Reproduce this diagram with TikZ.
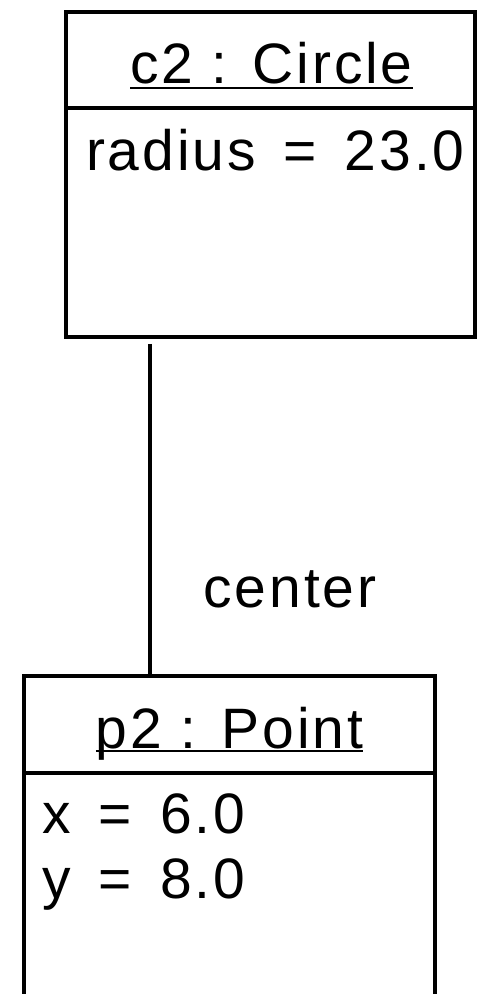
\documentclass[tikz,border=0pt]{standalone}
\usepackage{fontspec}
\setmainfont{Liberation Sans}[LetterSpace=5]
\newfontfamily\attrfont{Liberation Sans}[LetterSpace=5, WordSpace=1.5]
\begin{document}
\begin{tikzpicture}[x=1pt,y=-1pt,
  box/.style={draw, line width=3.5pt, inner sep=0pt},
  divider/.style={line width=3.5pt},
  link/.style={line width=3.5pt},
  uline/.style={line width=2pt},
  txt/.style={inner sep=0pt, font=\fontsize{57}{68}\selectfont},
  attr/.style={txt, anchor=base west, font=\attrfont\fontsize{57}{68}\selectfont}]
\useasboundingbox (0,0) rectangle (485,994);
\clip (0,0) rectangle (485,994);
% top object
\node[box, minimum width=409pt, minimum height=325pt] (c2) at (270.5,174.5) {};
\draw[divider] (c2.west |- 0,108) -- (c2.east |- 0,108);
\node[txt, anchor=base] (c2name) at (271.5,83) {c2 : Circle};
\draw[uline] ([yshift=-4.5pt]c2name.base west) -- ([yshift=-4.5pt]c2name.base east);
\node[attr] (c2r) at (86,170) {radius = 23.0};
% bottom object
\node[box, minimum width=411pt, minimum height=340pt] (p2) at (229.5,846) {};
\draw[divider] (p2.west |- 0,773) -- (p2.east |- 0,773);
\node[txt, anchor=base] (p2name) at (229.5,748) {p2 : Point};
\draw[uline] ([yshift=-3pt]p2name.base west) -- ([yshift=-3pt]p2name.base east);
\node[attr] (p2x) at (42,833) {x = 6.0};
\node[attr] (p2y) at (42,898) {y = 8.0};
% link
\coordinate (lk) at (150,500);
\draw[link, shorten <=5pt] (c2.south -| lk) -- (p2.north -| lk);
\node[txt, anchor=base] (role) at (290,607) {center};
\end{tikzpicture}
\end{document}
